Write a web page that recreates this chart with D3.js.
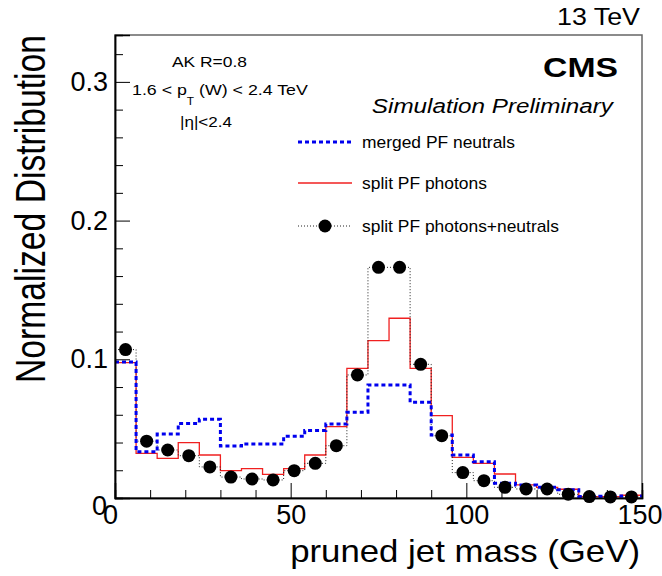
<!DOCTYPE html>
<html>
<head>
<meta charset="utf-8">
<script src="https://cdn.jsdelivr.net/npm/d3@7"></script>
<style>
  body { margin: 0; background: #fff; }
  svg { font-family: "Liberation Sans", Arial, sans-serif; }
</style>
</head>
<body>
<svg id="chart" width="662" height="576"></svg>
<script>
// pruned jet mass histograms, 6 GeV bins from 0 to 150
const binWidth = 6;
const binLow = d3.range(0, 150, binWidth);

const mergedNeutrals = [0.098, 0.0334, 0.0461, 0.0538, 0.0567, 0.0375, 0.039, 0.039, 0.0445, 0.0486,
  0.0533, 0.0618, 0.0815, 0.0815, 0.069, 0.0454, 0.031, 0.0262, 0.0106, 0.0094,
  0.0077, 0.006, 0.001, 0.0012, 0.0015];
const splitPhotons = [0.0976, 0.0322, 0.0286, 0.0399, 0.031, 0.0197, 0.0212, 0.0171, 0.0212, 0.031,
  0.0514, 0.0935, 0.1134, 0.1296, 0.0935, 0.0594, 0.0293, 0.025, 0.0173, 0.0094,
  0.0077, 0.0063, 0.001, 0.001, 0.002];
const splitPhotonsNeutrals = [0.107, 0.041, 0.0346, 0.0305, 0.0224, 0.0151, 0.0137, 0.013, 0.0197, 0.025,
  0.0377, 0.0887, 0.1663, 0.1663, 0.0964, 0.0449, 0.0183, 0.0125, 0.0077, 0.0065,
  0.0065, 0.0027, 0.001, 0.0008, 0.0008];

const xMajor = [0, 50, 100, 150];
const yMajor = [0, 0.1, 0.2, 0.3];

const svg = d3.select("#chart");
const plotLeft = 115, plotRight = 642, plotTop = 35, plotBottom = 498;

const x = d3.scaleLinear().domain([0, 150]).range([plotLeft, plotRight]);
const y = d3.scaleLinear().domain([0, 0.3338]).range([plotBottom, plotTop]);

// text squeezed/stretched to the width it has in the original picture
function label(str, opts) {
  const g = svg.append("g")
    .attr("transform", `translate(${opts.x},${opts.y})` + (opts.rotate ? " rotate(-90)" : ""));
  const t = g.append("text")
    .attr("font-size", opts.size)
    .attr("text-anchor", opts.anchor || "start")
    .attr("font-weight", opts.weight || null)
    .attr("font-style", opts.style || null)
    .text(str);
  if (opts.width) {
    const w = t.node().getBBox().width;
    t.attr("transform", `scale(${opts.width / w},1)`);
  }
  return t;
}

// frame
svg.append("rect")
  .attr("x", plotLeft).attr("y", plotTop)
  .attr("width", plotRight - plotLeft).attr("height", plotBottom - plotTop)
  .attr("fill", "none").attr("stroke", "#666").attr("stroke-width", 1.5);

// step path for a histogram
function steps(values) {
  const pts = [];
  values.forEach((v, i) => {
    pts.push([binLow[i], v]);
    pts.push([binLow[i] + binWidth, v]);
  });
  return d3.line().x(d => x(d[0])).y(d => y(d[1]))(pts);
}

svg.append("path")
  .attr("d", steps(splitPhotons))
  .attr("fill", "none").attr("stroke", "#f02020").attr("stroke-width", 1.3);

svg.append("path")
  .attr("d", steps(splitPhotonsNeutrals))
  .attr("fill", "none").attr("stroke", "#222").attr("stroke-width", 1)
  .attr("stroke-dasharray", "1,2");

svg.append("path")
  .attr("d", steps(mergedNeutrals))
  .attr("fill", "none").attr("stroke", "#0000ee").attr("stroke-width", 3)
  .attr("stroke-dasharray", "4,3");

svg.append("g").selectAll("circle")
  .data(splitPhotonsNeutrals)
  .join("circle")
  .attr("cx", (d, i) => x(binLow[i] + binWidth / 2))
  .attr("cy", d => y(d))
  .attr("r", 6.5)
  .attr("fill", "#000");

// axes (ticks inside the frame, ROOT style)
const xAxis = svg.append("g")
  .attr("transform", `translate(0,${plotBottom})`)
  .call(d3.axisBottom(x).tickValues(xMajor).tickSize(-15).tickPadding(7).tickFormat(d3.format("d")));
svg.append("g")
  .attr("transform", `translate(0,${plotBottom})`)
  .call(d3.axisBottom(x).tickValues(d3.range(0, 151, 10).filter(v => v % 50)).tickSize(-8).tickFormat(""));

const yAxis = svg.append("g")
  .attr("transform", `translate(${plotLeft},0)`)
  .call(d3.axisLeft(y).tickValues(yMajor).tickSize(-15).tickPadding(7).tickFormat(d => d === 0 ? "0" : d3.format(".1f")(d)));
svg.append("g")
  .attr("transform", `translate(${plotLeft},0)`)
  .call(d3.axisLeft(y).tickValues(d3.range(0.02, 0.33, 0.02).filter((v, i) => (i + 1) % 5)).tickSize(-8).tickFormat(""));

svg.selectAll(".domain").attr("stroke", "#000").attr("stroke-width", 1.5);
svg.selectAll(".tick line").attr("stroke", "#000").attr("stroke-width", 1);
svg.selectAll(".tick text").attr("font-size", 27).attr("fill", "#000")
  .attr("font-family", "Liberation Sans, Arial, sans-serif");
yAxis.selectAll(".tick text").filter(d => d === 0).attr("dy", "0.6em").attr("x", -8);
xAxis.selectAll(".tick text").filter(d => d === 0).attr("dx", -5);
xAxis.selectAll(".tick text").filter(d => d === 150).attr("text-anchor", "end").attr("dx", 20);

// axis titles
label("pruned jet mass (GeV)", { x: 640, y: 562, size: 31, width: 350, anchor: "end" });
label("Normalized Distribution", { x: 45, y: 35, size: 43, width: 348, anchor: "end", rotate: true });

// labels
label("13 TeV", { x: 640, y: 25, size: 24, width: 83, anchor: "end" });
label("CMS", { x: 618, y: 77, size: 28, width: 75, anchor: "end", weight: "bold" });
label("Simulation Preliminary", { x: 613, y: 113, size: 21, width: 243, anchor: "end", style: "italic" });

label("AK R=0.8", { x: 172, y: 67, size: 15, width: 75 });
const ptLine = label("", { x: 132, y: 95, size: 15 });
ptLine.append("tspan").text("1.6 < p");
ptLine.append("tspan").attr("font-size", 10).attr("dy", 10).text("T");
ptLine.append("tspan").attr("dy", -10).text(" (W) < 2.4 TeV");
ptLine.attr("transform", `scale(${176 / ptLine.node().getBBox().width},1)`);
label("|η|<2.4", { x: 180, y: 127, size: 15, width: 52 });

// legend
const legendRows = [
  { label: "merged PF neutrals", y: 142, w: 153, stroke: "#0000ee", width: 3, dash: "4,3" },
  { label: "split PF photons", y: 183, w: 125, stroke: "#f02020", width: 1.3, dash: null },
  { label: "split PF photons+neutrals", y: 226, w: 197, stroke: "#222", width: 1, dash: "1,2", marker: true }
];
legendRows.forEach(r => {
  svg.append("line")
    .attr("x1", 298).attr("x2", 352).attr("y1", r.y).attr("y2", r.y)
    .attr("stroke", r.stroke).attr("stroke-width", r.width)
    .attr("stroke-dasharray", r.dash);
  if (r.marker) svg.append("circle").attr("cx", 325).attr("cy", r.y).attr("r", 6.5).attr("fill", "#000");
  label(r.label, { x: 362, y: r.y + 6, size: 17, width: r.w });
});
</script>
</body>
</html>
